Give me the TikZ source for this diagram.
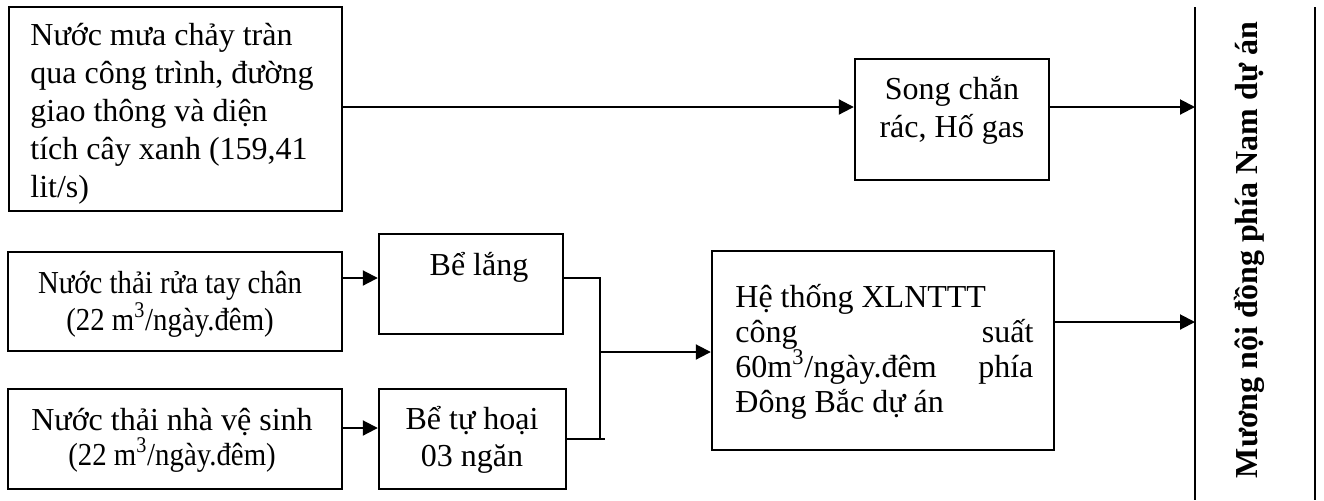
\documentclass[tikz,border=0pt]{standalone}
\usepackage{fontspec}
\setmainfont{Liberation Serif}
\usepackage{graphicx}
\usetikzlibrary{arrows.meta,fit,calc}
\newcommand{\spread}{\hskip 0pt plus 1fill\relax}
\begin{document}
\begin{tikzpicture}[x=0.5pt,y=-0.5pt,
 box/.style={draw, line width=1.2pt, inner sep=0pt},
 txt/.style={inner sep=0pt, font=\fontsize{16pt}{19pt}\selectfont},
 flow/.style={line width=1pt, -{Triangle[length=7.5pt,width=7.5pt]}},
 joinline/.style={line width=0.85pt},
 chline/.style={line width=1.2pt}]
\useasboundingbox (0,0) rectangle (1324,500);
% boxes
\node[box, fit={(9,7) (342,211)}] (rain) {};
\node[box, fit={(855,59) (1049,180)}] (song) {};
\node[box, fit={(8,252) (342,351)}] (wash) {};
\node[box, fit={(8,389) (342,489)}] (toilet) {};
\node[box, fit={(379,234) (563,334)}] (lang) {};
\node[box, fit={(379,389) (566,489)}] (septic) {};
\node[box, fit={(712,251) (1054,450)}] (xln) {};
% channel
\coordinate (chtop) at (1195,7);
\coordinate (chbot) at (1195,500);
\coordinate (chtopr) at (1315,7);
\coordinate (chbotr) at (1315,500);
\draw[chline] (chtop) -- (chbot);
\draw[chline] (chtopr) -- (chbotr);
\node[inner sep=0pt, font=\fontsize{16pt}{19pt}\selectfont\bfseries, rotate=90, anchor=base] (chan) at (1257,250) {Mương nội đồng phía Nam dự án};
% texts (multi-line align nodes: base = last line)
\node[txt, align=flush left, anchor=base west] (rainT) at (30,197) {Nước mưa chảy tràn\\qua công trình, đường\\giao thông và diện\\tích cây xanh (159,41\\lit/s)};
\node[txt, align=center, anchor=base] (songT) at (952,137) {Song chắn\\rác, Hố gas};
\node[txt, font=\fontsize{16pt}{16pt}\selectfont, align=center, anchor=base] (washT) at (170,330) {\scalebox{0.9}[1]{Nước thải rửa tay chân}\\\scalebox{0.9}[1]{(22 m\textsuperscript{3}/ngày.đêm)}};
\node[txt, font=\fontsize{16pt}{17.5pt}\selectfont, align=center, anchor=base] (toiletT) at (172,465) {Nước thải nhà vệ sinh\\\scalebox{0.9}[1]{(22 m\textsuperscript{3}/ngày.đêm)}};
\node[txt, anchor=base] (langT) at (479,275) {Bể lắng};
\node[txt, font=\fontsize{16pt}{18.5pt}\selectfont, align=center, anchor=base] (septicT) at (472,466) {Bể tự hoại\\03 ngăn};
\node[txt, font=\fontsize{16pt}{17.5pt}\selectfont, align=flush left, text width=149pt, anchor=base west] (xlnT) at (735,307) {Hệ thống XLNTTT\\công\spread suất\\60m\textsuperscript{3}/ngày.đêm\spread phía\\Đông Bắc dự án};
% connectors
\coordinate (ys) at (0,107);
\draw[flow] (rain.east |- ys) -- (song.west |- ys);
\draw[flow] (song.east |- ys) -- (chtop |- ys);
\coordinate (yw) at (0,278);
\draw[flow] (wash.east |- yw) -- (lang.west |- yw);
\coordinate (yt) at (0,428);
\draw[flow] (toilet.east |- yt) -- (septic.west |- yt);
\coordinate (jtop) at (600,278);
\coordinate (jbot) at (600,439);
\coordinate (jmid) at (600,352);
\coordinate (jend) at (605,439);
\draw[joinline] (lang.east |- jtop) -- (jtop) -- (jbot);
\draw[joinline] (septic.east |- jbot) -- (jend);
\draw[flow] (jmid) -- (jmid -| xln.west);
\coordinate (yx) at (0,322);
\draw[flow] (xln.east |- yx) -- (chtop |- yx);
\end{tikzpicture}
\end{document}
